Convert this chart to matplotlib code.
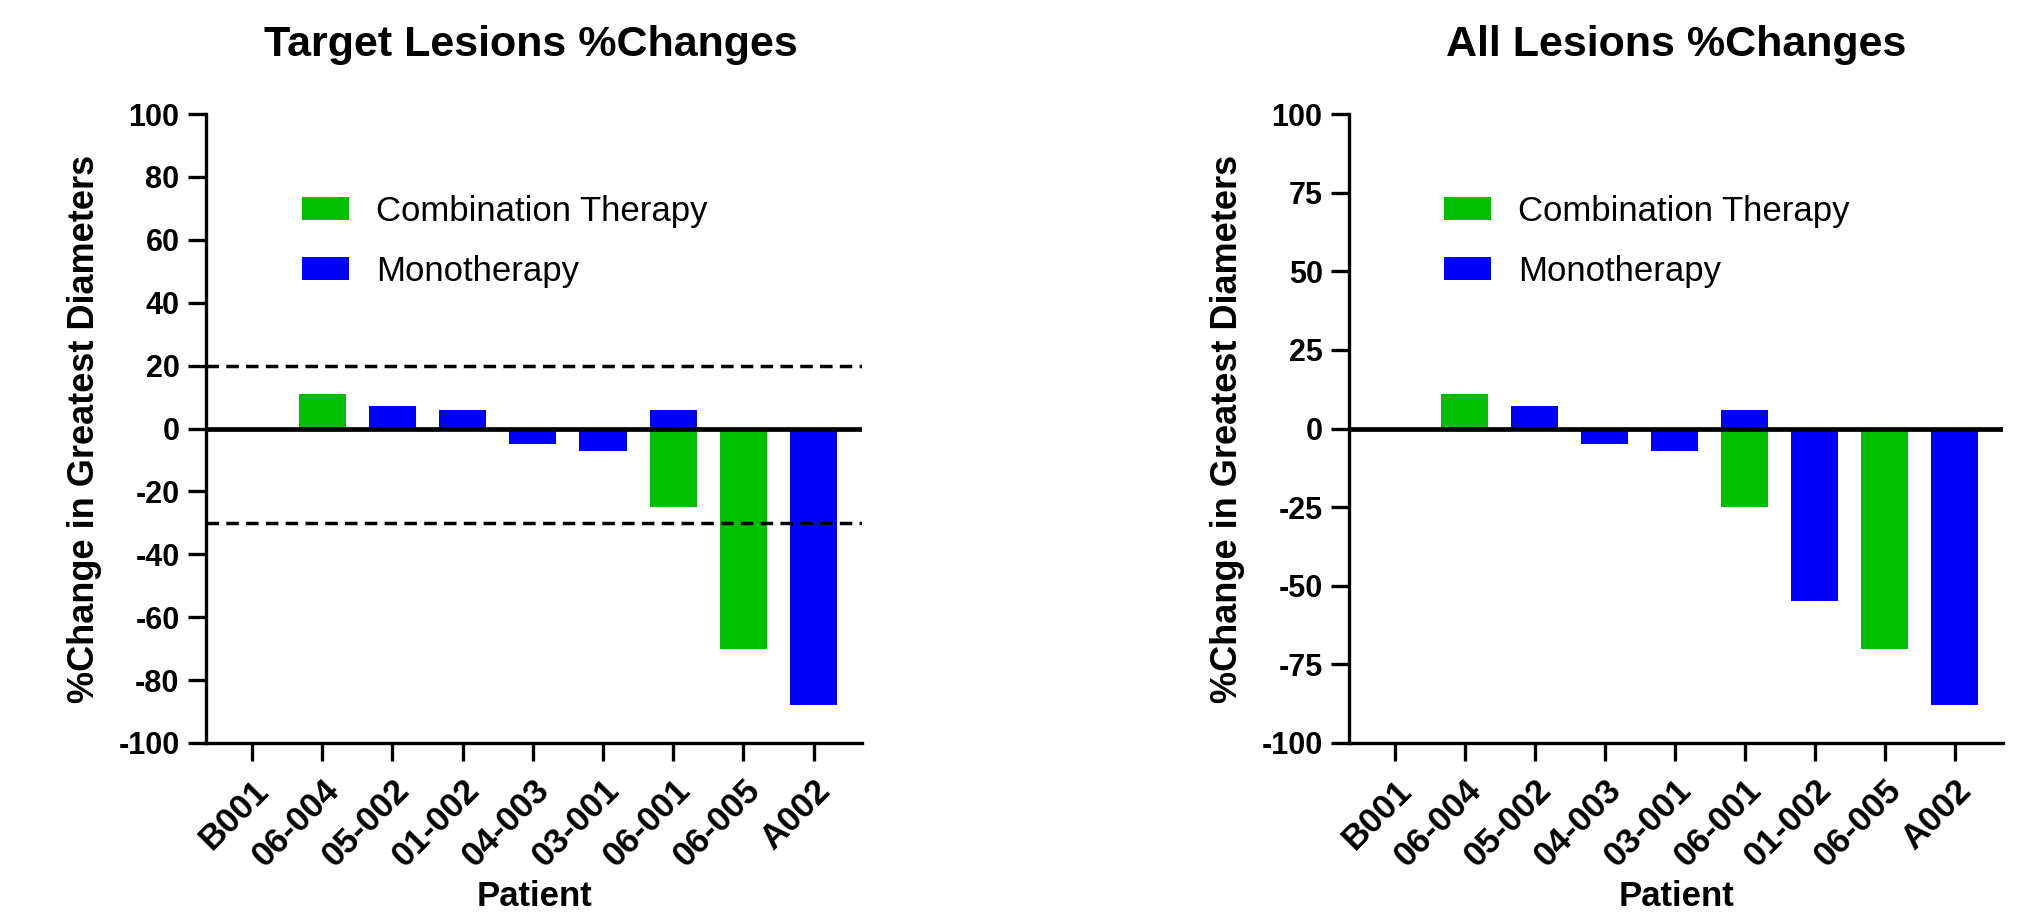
import numpy as np
import matplotlib
matplotlib.use("Agg")
import matplotlib.pyplot as plt
from matplotlib.patches import Patch

# --- DADOS ---
patients_target = ["B001", "06-004", "05-002", "01-002", "04-003", "03-001", "06-001", "06-005", "A002"]
combo_target = [np.nan, 11, np.nan, np.nan, np.nan, np.nan, -25, -70, np.nan]
mono_target = [0, np.nan, 7, 6, -5, -7, 6, np.nan, -88]

patients_all = ["B001", "06-004", "05-002", "04-003", "03-001", "06-001", "01-002", "06-005", "A002"]
combo_all = [np.nan, 11, np.nan, np.nan, np.nan, -25, np.nan, -70, np.nan]
mono_all = [0, np.nan, 7, -5, -7, 6, -55, np.nan, -88]

target_lines = [20, -30]
yticks_target = list(range(-100, 101, 20))
yticks_all = list(range(-100, 101, 25))

GREEN = "#00BF00"
BLUE = "#0000FF"
FONT = "Liberation Sans"

plt.rcParams["font.family"] = [FONT, "DejaVu Sans"]

W, H = 2017, 915
fig = plt.figure(figsize=(W / 100, H / 100), dpi=100)


def panel(rect, title, patients, combo, mono, yticks, hlines, title_x):
    ax = fig.add_axes(rect)
    x = np.arange(len(patients))
    ax.bar(x, combo, width=0.67, color=GREEN, linewidth=0, zorder=2)
    ax.bar(x, mono, width=0.67, color=BLUE, linewidth=0, zorder=2)
    ax.axhline(0, color="black", lw=3.4, zorder=3)
    for y in hlines:
        ax.axhline(y, color="black", lw=2.5, dashes=(3.6, 2.1), zorder=3)

    ax.set_xlim(-0.656, 8.69)
    ax.set_ylim(-100, 100)
    ax.set_yticks(yticks)
    ax.set_yticklabels([str(v) for v in yticks], fontsize=22, fontweight="bold")
    ax.set_xticks(x)
    ax.set_xticklabels(patients, rotation=45, ha="right", rotation_mode="anchor",
                       fontsize=25, fontweight="bold")
    for s in ["top", "right"]:
        ax.spines[s].set_visible(False)
    for s in ["left", "bottom"]:
        ax.spines[s].set_linewidth(2.4)
    ax.tick_params(axis="both", length=13, width=2.4)
    ax.tick_params(axis="y", pad=6)
    ax.tick_params(axis="x", pad=9)

    ax.set_xlabel("Patient", fontsize=25, fontweight="bold", labelpad=5)
    ax.set_ylabel("%Change in Greatest Diameters", fontsize=26, fontweight="bold", labelpad=12)

    fig.text(title_x / W, 1 - 45 / H, title, ha="center", va="center",
             fontsize=31, fontweight="bold")

    handles = [Patch(facecolor=GREEN, label="Combination Therapy"),
               Patch(facecolor=BLUE, label="Monotherapy")]
    ax.legend(handles=handles, loc="upper left", bbox_to_anchor=(0.146, 0.872),
              frameon=False, fontsize=25, handlelength=1.35, handleheight=0.66,
              handletextpad=0.78, labelspacing=0.78, borderpad=0, borderaxespad=0)
    return ax


panel([206 / W, 172 / H, 656 / W, 629 / H], "Target Lesions %Changes",
      patients_target, combo_target, mono_target, yticks_target, target_lines, 531)
panel([1349 / W, 172 / H, 654 / W, 629 / H], "All Lesions %Changes",
      patients_all, combo_all, mono_all, yticks_all, [], 1676)

fig.savefig("out.png", dpi=100)
